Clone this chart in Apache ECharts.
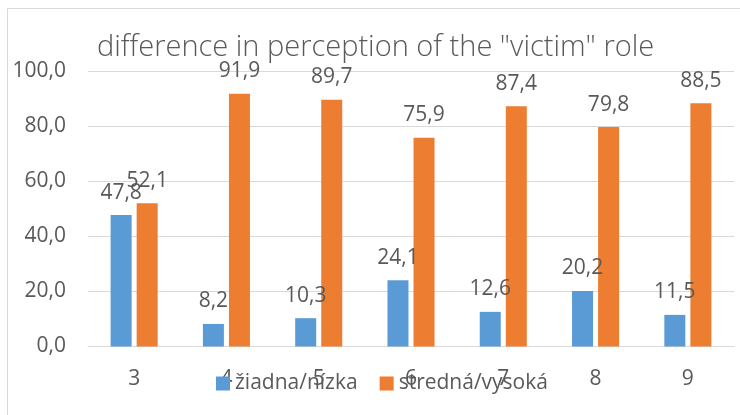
<!DOCTYPE html>
<html>
<head>
<meta charset="utf-8">
<script src="https://cdn.jsdelivr.net/npm/echarts@6/dist/echarts.min.js"></script>
<style>
  html, body { margin: 0; padding: 0; background: #fff; }
  #chart { width: 740px; height: 415px; }
</style>
</head>
<body>
<div id="chart"></div>
<script>
// Age categories on the x axis
const categories = ['3', '4', '5', '6', '7', '8', '9'];
// Share of respondents (%) per level
const seriesNames = ['žiadna/nízka', 'stredná/vysoká'];
const lowValues = [47.8, 8.2, 10.3, 24.1, 12.6, 20.2, 11.5];
const highValues = [52.1, 91.9, 89.7, 75.9, 87.4, 79.8, 88.5];
const yTicks = [0, 20, 40, 60, 80, 100];

const FONT = '"Open Sans", "Liberation Sans", sans-serif';
const TEXT = '#595959';
const fmt = v => Number(v).toFixed(1).replace('.', ',');

const chart = echarts.init(document.getElementById('chart'), null, { renderer: 'canvas' });

const labelStyle = {
  show: true,
  position: 'top',
  distance: 12,
  color: TEXT,
  fontFamily: FONT,
  fontSize: 21,
  formatter: p => fmt(p.value)
};

chart.setOption({
  animation: false,
  backgroundColor: '#ffffff',
  textStyle: { fontFamily: FONT },
  graphic: [{
    type: 'rect',
    shape: { x: 7.5, y: 8.5, width: 800, height: 500 },
    style: { fill: 'none', stroke: '#d9d9d9', lineWidth: 1 },
    silent: true
  }],
  title: {
    text: 'difference in perception of the "victim" role',
    left: 97,
    top: 33,
    padding: 0,
    textStyle: { fontFamily: FONT, fontWeight: 300, fontSize: 29, color: TEXT }
  },
  legend: {
    data: seriesNames,
    left: 216,
    top: 373,
    padding: 0,
    itemWidth: 14,
    itemHeight: 14,
    itemGap: 22,
    icon: 'rect',
    textStyle: { fontFamily: FONT, fontSize: 21, color: TEXT }
  },
  grid: { left: 88, right: 6, top: 71.5, bottom: 68.5, containLabel: false },
  xAxis: {
    type: 'category',
    data: categories,
    axisLine: { lineStyle: { color: '#d9d9d9' } },
    axisTick: { show: false },
    axisLabel: { color: TEXT, fontSize: 21, fontFamily: FONT, margin: 22 }
  },
  yAxis: {
    type: 'value',
    min: yTicks[0],
    max: yTicks[yTicks.length - 1],
    interval: yTicks[1] - yTicks[0],
    axisLine: { show: false },
    axisTick: { show: false },
    splitLine: { lineStyle: { color: '#d9d9d9' } },
    axisLabel: { color: TEXT, fontSize: 21, fontFamily: FONT, margin: 22, formatter: v => fmt(v) }
  },
  series: [
    {
      name: seriesNames[0],
      type: 'bar',
      data: lowValues,
      itemStyle: { color: '#5b9bd5' },
      barGap: '24%',
      barCategoryGap: '49%',
      label: labelStyle
    },
    {
      name: seriesNames[1],
      type: 'bar',
      data: highValues,
      itemStyle: { color: '#ed7d31' },
      barGap: '24%',
      barCategoryGap: '49%',
      label: labelStyle
    }
  ]
});
</script>
</body>
</html>
